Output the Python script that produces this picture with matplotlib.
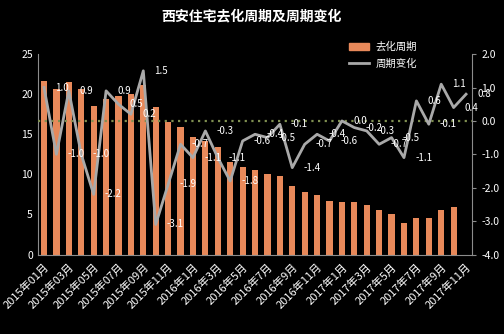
import numpy as np
import matplotlib
matplotlib.use("Agg")
import matplotlib.pyplot as plt
from matplotlib.patches import Patch
from matplotlib.lines import Line2D

plt.rcParams['font.family'] = ['Noto Sans CJK SC', 'DejaVu Sans']
plt.rcParams['axes.unicode_minus'] = False

# Data
months = [f"2015年{m:02d}月" for m in range(1, 13)] + \
         [f"2016年{m}月" for m in range(1, 13)] + \
         [f"2017年{m}月" for m in range(1, 12)]
cycle = [21.7, 20.7, 21.5, 20.6, 18.5, 19.4, 19.8, 20.0, 21.2, 18.4,
         16.5, 15.9, 14.7, 14.2, 13.4, 11.6, 10.9, 10.5, 10.0, 9.8,
         8.5, 7.8, 7.4, 6.7, 6.6, 6.5, 6.2, 5.6, 5.0, 3.9,
         4.5, 4.5, 5.5, 5.9, np.nan]
change = [1.0, -1.0, 0.9, -1.0, -2.2, 0.9, 0.5, 0.2, 1.5, -3.1,
          -1.9, -0.7, -1.1, -0.3, -1.1, -1.8, -0.6, -0.4, -0.5, -0.1,
          -1.4, -0.7, -0.4, -0.6, 0.0, -0.2, -0.3, -0.7, -0.5, -1.1,
          0.6, -0.1, 1.1, 0.4, 0.8]

BG = 'black'
BAR = '#E8895A'
LINE = '#A9A9A9'
SPINE = '#8c8c8c'

fig = plt.figure(figsize=(5.04, 3.34), dpi=100, facecolor=BG)
ax = fig.add_axes([0.075, 0.238, 0.862, 0.600], facecolor=BG)
ax2 = ax.twinx()

x = np.arange(len(months))
ax.bar(x, cycle, width=0.5, color=BAR, zorder=2)
ax.set_ylim(0, 25)
ax.set_yticks(range(0, 26, 5))
ax.set_xlim(-0.5, len(months) - 0.5)
ax.set_xticks(x[::2])
ax.set_xticklabels(months[::2], rotation=45, ha='right', rotation_mode='anchor')

ax2.axhline(0, color='#7f8f50', lw=1.6, ls=(0, (1, 2)), zorder=1)
ax2.plot(x, change, color=LINE, lw=2, zorder=3)
for xi, v in zip(x, change):
    ax2.annotate(f"{v:.1f}", (xi, v), xytext=(8, 0), textcoords='offset points',
                 ha='left', va='center', color='white', fontsize=7)
ax2.set_ylim(-4, 2)
ax2.set_yticks(np.arange(-4, 2.01, 1))
ax2.set_yticklabels([f"{t:.1f}" for t in np.arange(-4, 2.01, 1)])

for a in (ax, ax2):
    for s in a.spines.values():
        s.set_visible(False)
    a.tick_params(colors='white', labelsize=7.5, length=3, width=0.8)
    a.tick_params(axis='y', color=SPINE)
ax.spines['left'].set_visible(True)
ax.spines['left'].set_color(SPINE)
ax.spines['bottom'].set_visible(True)
ax.spines['bottom'].set_color(SPINE)
ax2.spines['right'].set_visible(True)
ax2.spines['right'].set_color(SPINE)
ax.tick_params(axis='x', length=0, pad=5, labelsize=8)
ax.tick_params(axis='y', length=0)

fig.text(0.5, 0.95, "西安住宅去化周期及周期变化", ha='center', va='center',
         color='white', fontsize=10, fontweight='bold')

handles = [Patch(color=BAR), Line2D([], [], color=LINE, lw=2)]
fig.legend(handles, ["去化周期", "周期变化"], loc='upper left',
           bbox_to_anchor=(0.693, 0.875), frameon=False, fontsize=7.5,
           labelcolor='white', handlelength=1.9, handleheight=0.7,
           handletextpad=0.6, labelspacing=0.6, borderpad=0, borderaxespad=0)

fig.savefig("out.png", dpi=100, facecolor=BG)
